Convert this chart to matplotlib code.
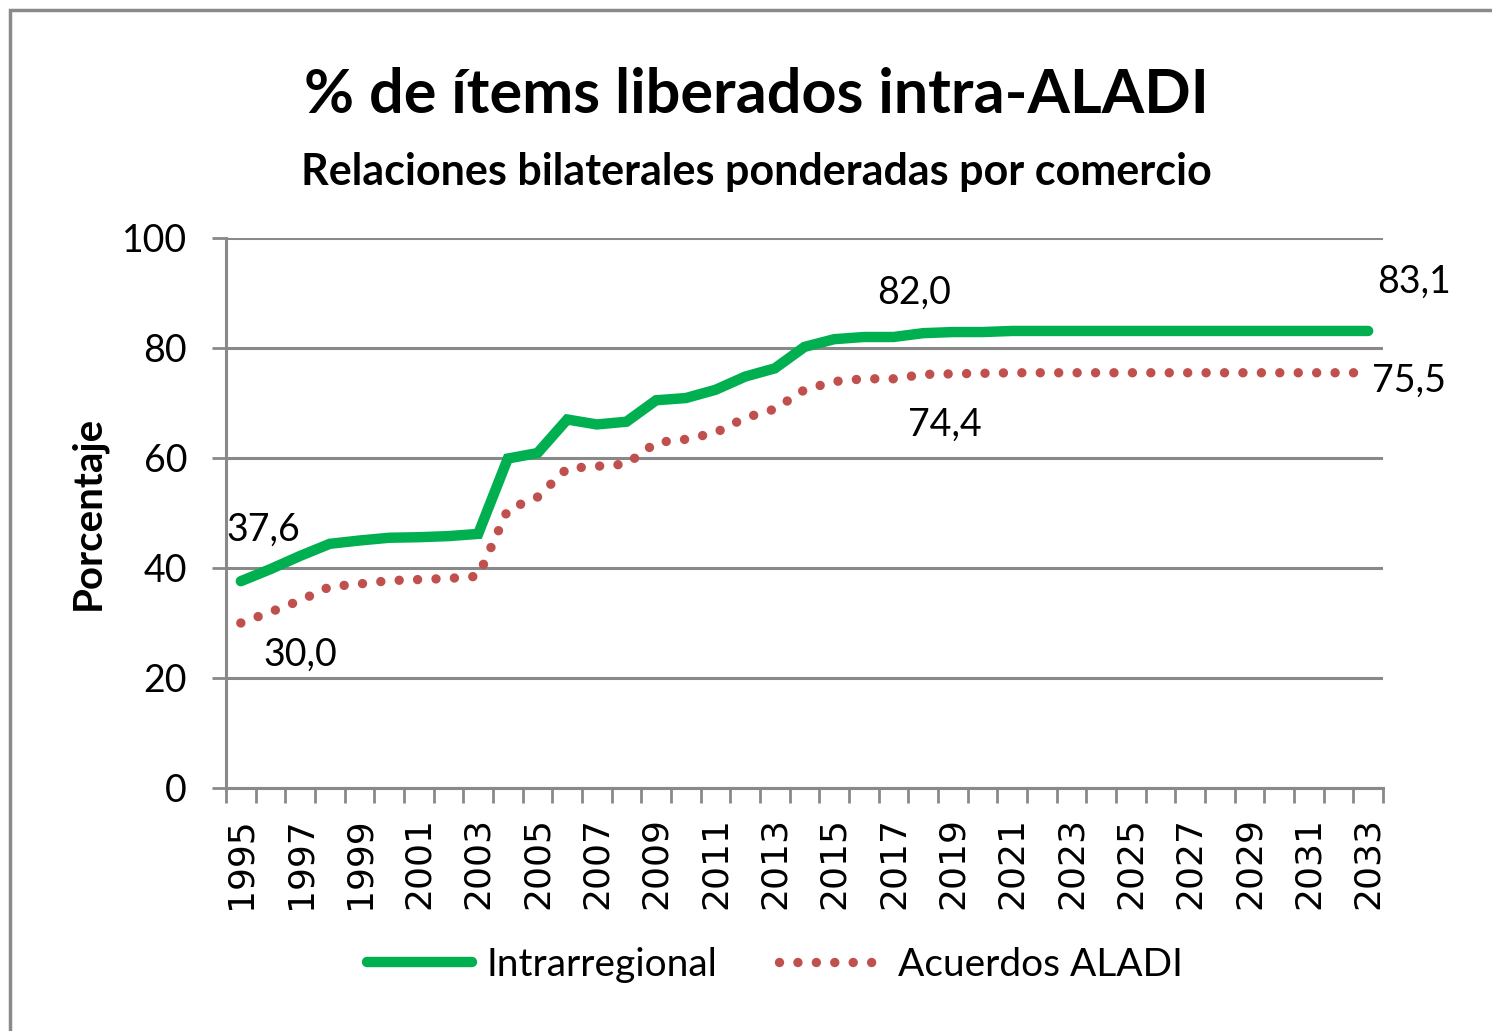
import matplotlib
matplotlib.use("Agg")
import matplotlib.pyplot as plt
from matplotlib.lines import Line2D
from matplotlib.patches import Rectangle
import numpy as np

years = list(range(1995, 2034))
intrarregional = [37.6, 39.8, 42.2, 44.4, 45.0, 45.5, 45.6, 45.8, 46.2, 59.9,
                  60.9, 67.0, 66.1, 66.6, 70.5, 70.9, 72.4, 74.8, 76.3, 80.2,
                  81.6, 82.0, 82.0, 82.7, 82.9, 82.9, 83.1, 83.1, 83.1, 83.1,
                  83.1, 83.1, 83.1, 83.1, 83.1, 83.1, 83.1, 83.1, 83.1]
acuerdos = [30.0, 32.0, 34.1, 36.6, 37.1, 37.7, 37.9, 38.1, 38.5, 50.6,
            52.9, 58.1, 58.5, 58.9, 62.8, 63.4, 64.6, 67.3, 68.9, 72.4,
            73.9, 74.4, 74.4, 75.2, 75.3, 75.4, 75.5, 75.5, 75.5, 75.5,
            75.5, 75.5, 75.5, 75.5, 75.5, 75.5, 75.5, 75.5, 75.5]
series_names = ["Intrarregional", "Acuerdos ALADI"]
title = "% de ítems liberados intra-ALADI"
subtitle = "Relaciones bilaterales ponderadas por comercio"
ylabel = "Porcentaje"
yticks = [0, 20, 40, 60, 80, 100]

GREEN = "#00B050"
RED = "#C0504D"
GRID = "#898989"
FONT = ["Lato", "DejaVu Sans"]
DOTS = (0, (0.001, 1.95))

plt.rcParams['font.family'] = FONT

W, H = 1492, 1031
fig = plt.figure(figsize=(W / 100, H / 100), dpi=100)
fig.patch.set_facecolor("white")

# chart-area frame (left and top edges visible)
fig.patches.append(Rectangle((9.5 / W, -0.05), 1.2, 1.05 - 10.5 / H,
                             transform=fig.transFigure, fill=False,
                             edgecolor="#8a8a8a", linewidth=2.5))

ax = fig.add_axes([226 / W, 1 - 788 / H, (1383 - 226) / W, (788 - 238) / H])
x = np.arange(len(years))

ax.plot(x, intrarregional, color=GREEN, lw=7.5, solid_capstyle="round",
        solid_joinstyle="miter", zorder=3)
ax.plot(x, acuerdos, color=RED, lw=6.8, linestyle=DOTS,
        dash_capstyle="round", zorder=3)

ax.set_xlim(-0.5, len(years) - 0.5)
ax.set_ylim(0, 100)
ax.set_yticks(yticks)
ax.set_yticklabels([str(v) for v in yticks], fontsize=27, family=FONT)
ax.yaxis.grid(True, color=GRID, lw=2.2)
ax.set_axisbelow(True)

# category boundary ticks (major), labels at every other category (minor)
ax.set_xticks(np.arange(-0.5, len(years), 1.0))
ax.set_xticklabels([])
ax.set_xticks(x[::2], minor=True)
ax.set_xticklabels([str(y) for y in years[::2]], minor=True, rotation=90,
                   fontsize=26, family=["DejaVu Sans"])
ax.tick_params(axis="x", which="major", length=11, width=2, color=GRID,
               direction="out")
ax.tick_params(axis="x", which="minor", length=0, pad=21)
ax.tick_params(axis="y", length=10, width=2, color=GRID, direction="out",
               pad=18)

for s in ["top", "right"]:
    ax.spines[s].set_visible(False)
for s in ["left", "bottom"]:
    ax.spines[s].set_color(GRID)
    ax.spines[s].set_linewidth(2.2)

ax.set_ylabel(ylabel, fontsize=29, fontweight="bold", labelpad=11)

# data labels
def lab(i, vals, dx, dy):
    ax.annotate(f"{vals[i]:.1f}".replace(".", ","), (x[i], vals[i]),
                xytext=(dx, dy), textcoords="offset pixels",
                ha="center", va="center", fontsize=27, zorder=5)

i17 = years.index(2017)
lab(0, intrarregional, 22, 51)
lab(0, acuerdos, 59, -32)
lab(i17, intrarregional, 21, 44)
lab(i17, acuerdos, 51, -46)
lab(len(years) - 1, intrarregional, 46, 49)
lab(len(years) - 1, acuerdos, 41, -8)

fig.text(756 / W, 1 - 95 / H, title, ha="center", va="center",
         fontsize=44, fontweight="bold")
fig.text(756 / W, 1 - 172 / H, subtitle, ha="center", va="center",
         fontsize=31, fontweight="bold")

handles = [Line2D([0], [0], color=GREEN, lw=7.5, solid_capstyle="round"),
           Line2D([0], [0], color=RED, lw=6.8, linestyle=DOTS,
                  dash_capstyle="round")]
fig.legend(handles, series_names, loc="center", ncol=2,
           bbox_to_anchor=(775 / W, 1 - 965 / H), frameon=False,
           fontsize=28, handlelength=2.7, handletextpad=0.35,
           columnspacing=1.6)

fig.savefig("out.png", dpi=100, facecolor="white")
